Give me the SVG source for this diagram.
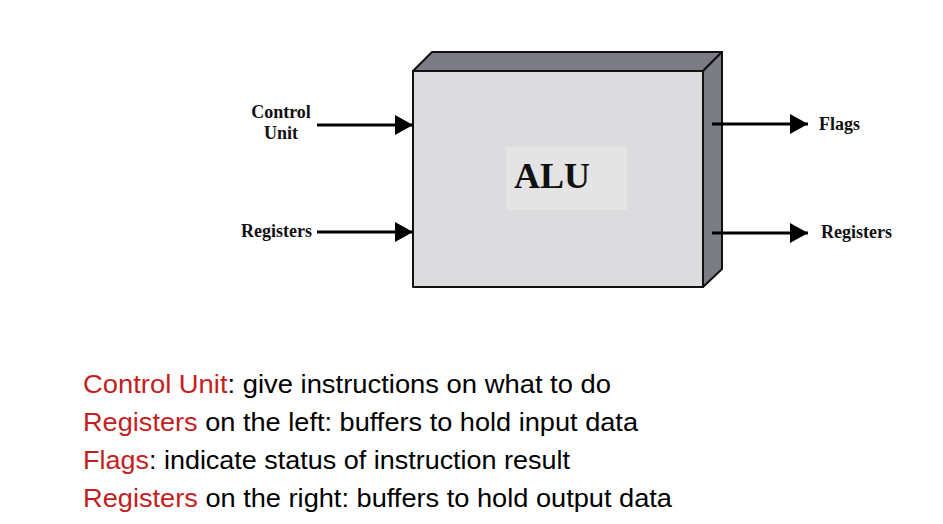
<svg xmlns="http://www.w3.org/2000/svg" width="943" height="524" viewBox="0 0 943 524">
<style>
.lbl{font-family:"Liberation Serif","Times New Roman",serif;font-weight:bold;font-size:18px;fill:#111}
.conn line{stroke:#000;stroke-width:3}
.face{stroke:#111;stroke-width:2;stroke-linejoin:round}
.note{font-family:"Liberation Sans",Arial,sans-serif;font-size:25px;fill:#000}
.red{fill:#c41e1e}
</style>
<defs>
<marker id="ah" markerWidth="18" markerHeight="20" refX="18" refY="10" orient="auto" markerUnits="userSpaceOnUse">
<path d="M0,0 L18,10 L0,20 Z" fill="#000"/>
</marker>
</defs>
<rect width="943" height="524" fill="#fff"/>
<g id="alu">
<polygon class="face" points="413,71 432,52 722,52 703,71" fill="#7b7c84"/>
<polygon class="face" points="703,71 722,52 722,269 703,287" fill="#7b7c84"/>
<rect class="face" x="413" y="71" width="290" height="216" fill="#dcdbde"/>
<rect x="506" y="147" width="121" height="63" fill="#e4e4e5"/>
<text x="552" y="188" text-anchor="middle" font-family="Liberation Serif,serif" font-weight="bold" font-size="36" fill="#111">ALU</text>
</g>
<g id="control-unit">
<text class="lbl" x="281" y="118" text-anchor="middle">Control</text>
<text class="lbl" x="281" y="139" text-anchor="middle">Unit</text>
</g>
<g id="registers-in">
<text class="lbl" x="312" y="237" text-anchor="end">Registers</text>
</g>
<g id="flags">
<text class="lbl" x="819" y="130">Flags</text>
</g>
<g id="registers-out">
<text class="lbl" x="821" y="238">Registers</text>
</g>
<g class="conn" id="connectors">
<line x1="317" y1="125" x2="413" y2="125" marker-end="url(#ah)"/>
<line x1="317" y1="232" x2="413" y2="232" marker-end="url(#ah)"/>
<line x1="712" y1="124" x2="808" y2="124" marker-end="url(#ah)"/>
<line x1="712" y1="233" x2="808" y2="233" marker-end="url(#ah)"/>
</g>
<g id="notes">
<text class="note" x="83" y="393" textLength="528" lengthAdjust="spacingAndGlyphs"><tspan class="red">Control Unit</tspan>: give instructions on what to do</text>
<text class="note" x="83" y="431" textLength="555" lengthAdjust="spacingAndGlyphs"><tspan class="red">Registers</tspan> on the left: buffers to hold input data</text>
<text class="note" x="83" y="469" textLength="487" lengthAdjust="spacingAndGlyphs"><tspan class="red">Flags</tspan>: indicate status of instruction result</text>
<text class="note" x="83" y="507" textLength="589" lengthAdjust="spacingAndGlyphs"><tspan class="red">Registers</tspan> on the right: buffers to hold output data</text>
</g>
</svg>
